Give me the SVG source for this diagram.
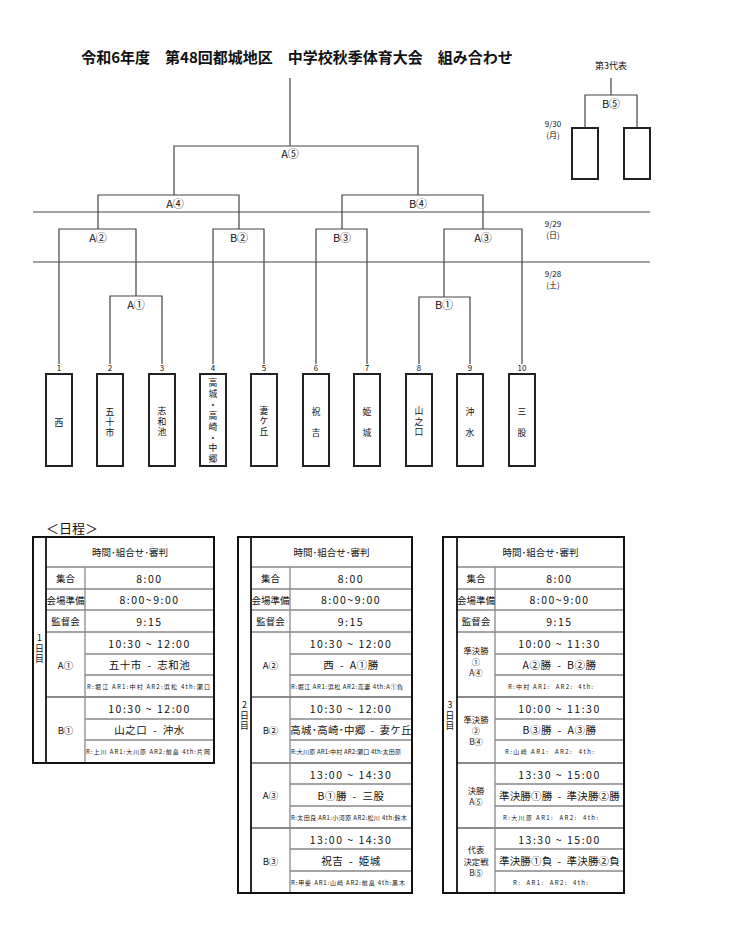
<svg xmlns="http://www.w3.org/2000/svg" width="750" height="927" viewBox="0 0 750 927">
<style>
text{font-family:"Noto Sans CJK JP","Noto Sans",sans-serif;fill:#111;}
.title{font-size:15px;font-weight:bold;}
.lbl{font-size:11px;text-anchor:middle;dominant-baseline:central;}
.num{font-size:8px;text-anchor:middle;}
.team{font-size:8.8px;text-anchor:middle;dominant-baseline:central;}
.vt{font-size:8.8px;writing-mode:vertical-rl;text-orientation:upright;letter-spacing:1.7px;}
.date{font-size:8px;text-anchor:middle;dominant-baseline:central;}
.c{font-size:9.5px;text-anchor:middle;dominant-baseline:central;}
.d{font-size:8.3px;text-anchor:middle;dominant-baseline:central;}
.v{font-size:10.5px;text-anchor:middle;dominant-baseline:central;letter-spacing:1.5px;white-space:pre;}
.m{font-size:10.5px;text-anchor:middle;dominant-baseline:central;letter-spacing:0.5px;white-space:pre;}
.ref{font-size:6px;dominant-baseline:central;white-space:pre;}
.ln{stroke:#444;stroke-width:1.2;fill:none;}
.box{stroke:#222;stroke-width:2;fill:#fff;}
.tb{stroke:#111;stroke-width:2;fill:none;}
.dl{stroke:#111;stroke-width:1.8;fill:none;}
.g{stroke:#888;stroke-width:1.3;fill:none;}
.gb{stroke:#666;stroke-width:1.6;fill:none;}
</style>
<rect width="750" height="927" fill="#fff"/>
<text class="title" x="297" y="63" text-anchor="middle">令和6年度　第48回都城地区　中学校秋季体育大会　組み合わせ</text>

<g id="connectors">
<path class="ln" d="M290 78V146"/>
<path class="ln" d="M174 195V146H418V195"/>
<path class="ln" d="M98 229V195H239V229"/>
<path class="ln" d="M342 229V195H483V229"/>
<path class="ln" d="M59 364V229H136V296"/>
<path class="ln" d="M213 364V229H264V364"/>
<path class="ln" d="M316 364V229H367V364"/>
<path class="ln" d="M444 297V229H522V364"/>
<path class="ln" d="M110 364V296H162V364"/>
<path class="ln" d="M419 364V297H470V364"/>
<path class="ln" d="M611 78V95"/>
<path class="ln" d="M585 128V95H637V128"/>
<path class="ln" d="M33 212H650M33 262H650"/>
</g>

<g id="labels">
<text class="lbl" x="290" y="153">A⑤</text>
<text class="lbl" x="175" y="203">A④</text>
<text class="lbl" x="418" y="203">B④</text>
<text class="lbl" x="98" y="237">A②</text>
<text class="lbl" x="239" y="237">B②</text>
<text class="lbl" x="342" y="237">B③</text>
<text class="lbl" x="483" y="237">A③</text>
<text class="lbl" x="136" y="304">A①</text>
<text class="lbl" x="444" y="304">B①</text>
<text class="lbl" x="611" y="103">B⑤</text>
<text class="date" x="611" y="65" style="font-size:9px">第3代表</text>
<text class="date" x="553" y="123">9/30</text>
<text class="date" x="553" y="134">(月)</text>
<text class="date" x="553" y="223">9/29</text>
<text class="date" x="553" y="234">(日)</text>
<text class="date" x="553" y="273">9/28</text>
<text class="date" x="553" y="284">(土)</text>
</g>

<g id="rep1"><rect class="box" x="572" y="128" width="26" height="51"/></g>
<g id="rep2"><rect class="box" x="624" y="128" width="26" height="51"/></g>

<g id="team1"><text class="num" x="59" y="371">1</text><rect class="box" x="46" y="374" width="26" height="92"/><text class="team" x="59" y="422">西</text></g>
<g id="team2"><text class="num" x="110" y="371">2</text><rect class="box" x="97" y="374" width="26" height="92"/><text class="vt" x="110" y="407">五十市</text></g>
<g id="team3"><text class="num" x="162" y="371">3</text><rect class="box" x="149" y="374" width="26" height="92"/><text class="vt" x="162" y="406.6">志和池</text></g>
<g id="team4"><text class="num" x="213" y="371">4</text><rect class="box" x="200" y="374" width="26" height="92"/><text class="vt" x="213" y="378.6" style="letter-spacing:2.06px">高城・高崎・中郷</text></g>
<g id="team5"><text class="num" x="264" y="371">5</text><rect class="box" x="251" y="374" width="26" height="92"/><text class="vt" x="264" y="406.1">妻ケ丘</text></g>
<g id="team6"><text class="num" x="316" y="371">6</text><rect class="box" x="303" y="374" width="26" height="92"/><text class="team"><tspan x="316" y="411">祝</tspan><tspan x="316" y="432">吉</tspan></text></g>
<g id="team7"><text class="num" x="367" y="371">7</text><rect class="box" x="354" y="374" width="26" height="92"/><text class="team"><tspan x="367" y="411">姫</tspan><tspan x="367" y="432">城</tspan></text></g>
<g id="team8"><text class="num" x="419" y="371">8</text><rect class="box" x="406" y="374" width="26" height="92"/><text class="vt" x="419" y="406.6">山之口</text></g>
<g id="team9"><text class="num" x="470" y="371">9</text><rect class="box" x="457" y="374" width="26" height="92"/><text class="team"><tspan x="470" y="411">沖</tspan><tspan x="470" y="432">水</tspan></text></g>
<g id="team10"><text class="num" x="522" y="371">10</text><rect class="box" x="509" y="374" width="26" height="92"/><text class="team"><tspan x="522" y="411">三</tspan><tspan x="522" y="432">股</tspan></text></g>

<text x="46" y="533" style="font-size:13px">＜日程＞</text>

<g id="day1">
<path class="g" d="M85 654H214M85 675H214M85 719H214M85 740H214"/>
<path class="g" d="M46 567H214M46 589H214M46 610H214M46 632H214"/>
<path class="gb" d="M46 697H214"/>
<path class="g" d="M85 567V763"/>
<path class="dl" d="M46 537V763"/>
<rect class="tb" x="33" y="537" width="181" height="226"/>
<text class="vt" x="39.5" y="633.6">1日目</text>
<text class="c" x="130" y="552">時間･組合せ･審判</text>
<text class="c" x="65.5" y="578">集合</text>
<text class="c" x="65.5" y="599.5">会場準備</text>
<text class="c" x="65.5" y="621">監督会</text>
<text class="v" x="149.5" y="578">8:00</text>
<text class="v" x="149.5" y="599.5">8:00~9:00</text>
<text class="v" x="149.5" y="621">9:15</text>
<text class="c" x="65.5" y="664.5">A①</text>
<text class="v" x="149.5" y="643">10:30 ~ 12:00</text>
<text class="m" x="149.5" y="664.5">五十市  -  志和池</text>
<text class="ref" x="87" y="686" textLength="123" lengthAdjust="spacing">R:堀江 AR1:中村 AR2:浜松 4th:瀬口</text>
<text class="c" x="65.5" y="729.5">B①</text>
<text class="v" x="149.5" y="708">10:30 ~ 12:00</text>
<text class="m" x="149.5" y="729.5">山之口  -  沖水</text>
<text class="ref" x="86" y="751.5" textLength="124" lengthAdjust="spacing">R:上川 AR1:大川原 AR2:前畠 4th:片岡</text>
</g>

<g id="day2">
<path class="g" d="M290 654H412M290 675H412M290 719H412M290 740H412M290 784H412M290 806H412M290 849H412M290 871H412"/>
<path class="g" d="M251 567H412M251 589H412M251 610H412M251 632H412"/>
<path class="gb" d="M251 697H412M251 763H412M251 828H412"/>
<path class="g" d="M290 567V893"/>
<path class="dl" d="M251 537V893"/>
<rect class="tb" x="238" y="537" width="174" height="356"/>
<text class="vt" x="244.5" y="700.6">2日目</text>
<text class="c" x="331.5" y="552">時間･組合せ･審判</text>
<text class="c" x="270.5" y="578">集合</text>
<text class="c" x="270.5" y="599.5">会場準備</text>
<text class="c" x="270.5" y="621">監督会</text>
<text class="v" x="351" y="578">8:00</text>
<text class="v" x="351" y="599.5">8:00~9:00</text>
<text class="v" x="351" y="621">9:15</text>
<text class="c" x="270.5" y="664.5">A②</text>
<text class="v" x="351" y="643">10:30 ~ 12:00</text>
<text class="m" x="351" y="664.5">西  -  A①勝</text>
<text class="ref" x="291" y="686" textLength="112" lengthAdjust="spacing">R:堀江 AR1:浜松 AR2:高妻 4th:A①負</text>
<text class="c" x="270.5" y="729.5">B②</text>
<text class="v" x="351" y="708">10:30 ~ 12:00</text>
<text class="m" x="351" y="729.5" style="letter-spacing:0.2px">高城･高崎･中郷  -  妻ケ丘</text>
<text class="ref" x="291" y="751.5" textLength="110" lengthAdjust="spacing">R:大川原 AR1:中村 AR2:瀬口 4th:太田原</text>
<text class="c" x="270.5" y="795">A③</text>
<text class="v" x="351" y="774">13:00 ~ 14:30</text>
<text class="m" x="351" y="795">B①勝  -  三股</text>
<text class="ref" x="291" y="817" textLength="116" lengthAdjust="spacing">R:太田良 AR1:小河原 AR2:松川 4th:鈴木</text>
<text class="c" x="270.5" y="860.5">B③</text>
<text class="v" x="351" y="839">13:00 ~ 14:30</text>
<text class="m" x="351" y="860.5">祝吉  -  姫城</text>
<text class="ref" x="291" y="882" textLength="114" lengthAdjust="spacing">R:甲斐 AR1:山崎 AR2:前畠 4th:黒木</text>
</g>

<g id="day3">
<path class="g" d="M495 654H624M495 675H624M495 719H624M495 740H624M495 784H624M495 806H624M495 849H624M495 871H624"/>
<path class="g" d="M457 567H624M457 589H624M457 610H624M457 632H624"/>
<path class="gb" d="M457 697H624M457 763H624M457 828H624"/>
<path class="g" d="M495 567V893"/>
<path class="dl" d="M457 537V893"/>
<rect class="tb" x="443" y="537" width="181" height="356"/>
<text class="vt" x="450" y="700.6">3日目</text>
<text class="c" x="540.5" y="552">時間･組合せ･審判</text>
<text class="c" x="476" y="578">集合</text>
<text class="c" x="476" y="599.5">会場準備</text>
<text class="c" x="476" y="621">監督会</text>
<text class="v" x="559.5" y="578">8:00</text>
<text class="v" x="559.5" y="599.5">8:00~9:00</text>
<text class="v" x="559.5" y="621">9:15</text>
<text class="d"><tspan x="476" y="649.5">準決勝</tspan><tspan x="476" y="660.5">①</tspan><tspan x="476" y="671.5">A④</tspan></text>
<text class="v" x="559.5" y="643">10:00 ~ 11:30</text>
<text class="m" x="559.5" y="664.5">A②勝  -  B②勝</text>
<text class="ref" x="508" y="686" textLength="85" lengthAdjust="spacing">R:中村 AR1:  AR2:  4th:</text>
<text class="d"><tspan x="476" y="719">準決勝</tspan><tspan x="476" y="730">②</tspan><tspan x="476" y="741">B④</tspan></text>
<text class="v" x="559.5" y="708">10:00 ~ 11:30</text>
<text class="m" x="559.5" y="729.5">B③勝  -  A③勝</text>
<text class="ref" x="505" y="751.5" textLength="89" lengthAdjust="spacing">R:山崎 AR1:  AR2:  4th:</text>
<text class="d"><tspan x="476" y="789.5">決勝</tspan><tspan x="476" y="800.5">A⑤</tspan></text>
<text class="v" x="559.5" y="774">13:30 ~ 15:00</text>
<text class="m" x="559.5" y="795" style="letter-spacing:0.2px">準決勝①勝  -  準決勝②勝</text>
<text class="ref" x="503" y="817" textLength="95" lengthAdjust="spacing">R:大川原 AR1:  AR2:  4th:</text>
<text class="d"><tspan x="476" y="849">代表</tspan><tspan x="476" y="860.5">決定戦</tspan><tspan x="476" y="872">B⑤</tspan></text>
<text class="v" x="559.5" y="839">13:30 ~ 15:00</text>
<text class="m" x="559.5" y="860.5" style="letter-spacing:0.2px">準決勝①負  -  準決勝②負</text>
<text class="ref" x="513" y="882" textLength="75" lengthAdjust="spacing">R:  AR1:  AR2:  4th:</text>
</g>
</svg>
